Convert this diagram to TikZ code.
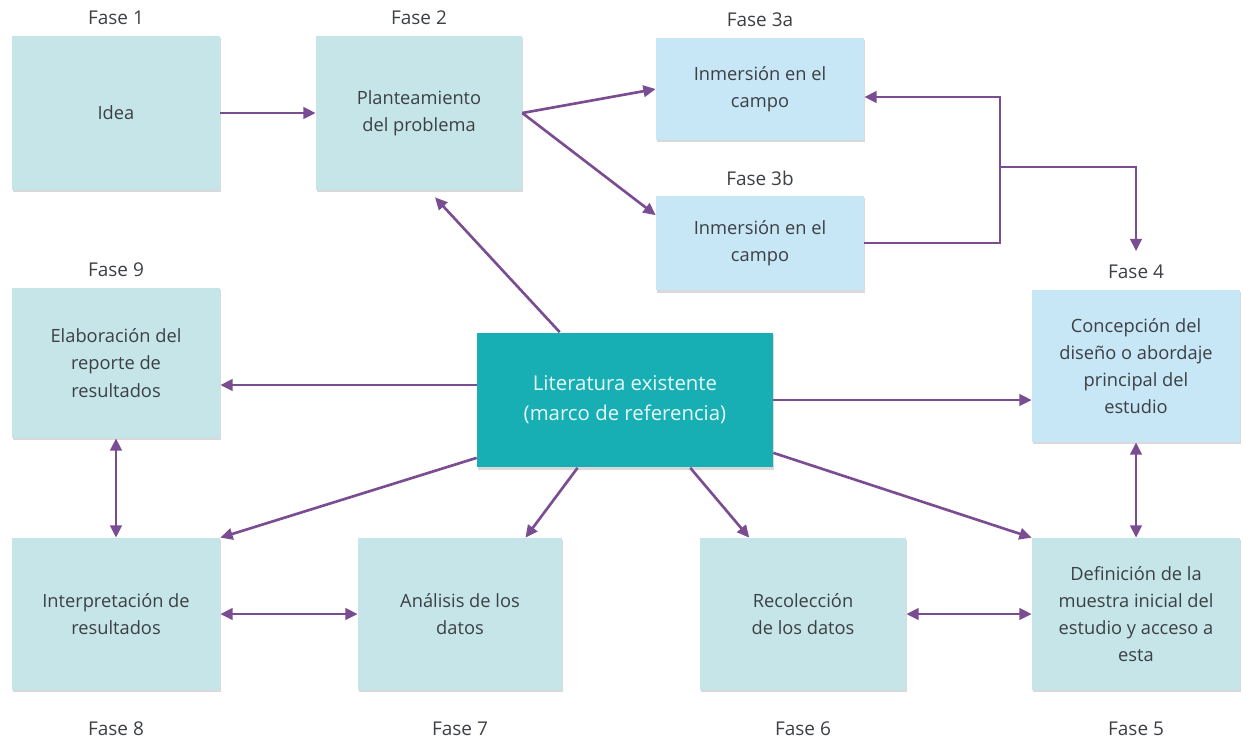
\documentclass[tikz,border=0pt]{standalone}
\usepackage{fontspec}
\setmainfont{Open Sans}
\usepackage{tikz}
\usetikzlibrary{arrows.meta,positioning,calc,shadows}
\usepackage{xcolor}
\definecolor{celeste}{HTML}{C5E5E8}
\definecolor{cielo}{HTML}{C7E6F6}
\definecolor{turquesa}{HTML}{17AEB4}
\definecolor{morado}{HTML}{7A4C92}
\definecolor{tinta}{HTML}{3C4044}
\definecolor{claro}{HTML}{E6FAFA}
\tikzset{
  fase/.style={fill=celeste,align=center,minimum width=4.16cm,minimum height=3.04cm,inner sep=0pt,text=tinta,font=\fontsize{10.4}{15.5}\selectfont,drop shadow={shadow xshift=0.7pt,shadow yshift=-1.2pt,opacity=0.3}},
  inmer/.style={fase,fill=cielo},
  etiq/.style={inner sep=0pt,text=tinta,font=\fontsize{10.8}{12}\selectfont},
  arr/.style={-{Triangle[length=7pt,width=6.5pt]},line width=1.5pt,draw=morado},
  darr/.style={arr,{Triangle[length=7pt,width=6.5pt]}-{Triangle[length=7pt,width=6.5pt]}}
}

\begin{document}
\begin{tikzpicture}[x=0.02cm,y=-0.02cm]
        \useasboundingbox (0,0) rectangle (1243,741);
        \node[fase,minimum height=3.08cm] (idea) at (116,113) {Idea};
        \node[fase,minimum height=3.08cm,minimum width=4.12cm] (plan) at (419,113) {Planteamiento\\del problema};
        \node[inmer,minimum height=2.04cm] (campoa) at (760,89) {Inmersión en el\\campo};
        \node[inmer,minimum height=1.9cm] (campob) at (760,243) {Inmersión en el\\campo};
        \node[fase,minimum height=3cm] (rep) at (116,363) {Elaboración del\\reporte de\\resultados};
        \node[fase,fill=turquesa,text=claro,minimum width=5.92cm,minimum height=2.7cm,font=\fontsize{11.6}{17}\selectfont] (lit) at (625,400) {Literatura existente\\(marco de referencia)};
        \node[inmer] (dis) at (1136,366) {Concepción del\\diseño o abordaje\\principal del\\estudio};
        \node[fase] (int) at (116,614) {Interpretación de\\resultados};
        \node[fase,minimum width=4.08cm] (ana) at (460,614) {Análisis de los\\datos};
        \node[fase,minimum width=4.12cm] (rec) at (803,614) {Recolección\\de los datos};
        \node[fase] (mue) at (1136,614) {Definición de la\\muestra inicial del\\estudio y acceso a\\esta};

        \node[etiq,above=2.2mm of idea] (f1) {Fase 1};
        \node[etiq,above=2.2mm of plan] (f2) {Fase 2};
        \node[etiq,above=2.2mm of campoa] (f3a) {Fase 3a};
        \node[etiq,above=1.8mm of campob] (f3b) {Fase 3b};
        \node[etiq,above=2.2mm of dis] (f4) {Fase 4};
        \node[etiq,above=2.2mm of rep] (f9) {Fase 9};
        \node[etiq,below=6.2mm of int] (f8) {Fase 8};
        \node[etiq,below=6.2mm of ana] (f7) {Fase 7};
        \node[etiq,below=6.2mm of rec] (f6) {Fase 6};
        \node[etiq,below=6.2mm of mue] (f5) {Fase 5};

        \coordinate (cruce) at (1000,167);
        \draw[arr] (idea) -- (plan);
        \draw[arr] (plan.east) -- (campoa.west);
        \draw[arr] (plan.east) -- ([yshift=-4mm]campob.north west);
        \draw[arr] (campob.east) -| (cruce) |- ([yshift=-1.6mm]campoa.east);
        \draw[arr] (cruce) -| ([yshift=2.6mm]f4.north);
        \draw[arr] ($(lit.north west)!0.28!(lit.north east)$) -- ([xshift=3.2mm,yshift=-1.4mm]plan.south);
        \draw[arr] ([yshift=3mm]lit.west) -- ([yshift=3mm]lit.west -| rep.east);
        \draw[arr] (lit.east) -- (lit.east -| dis.west);
        \draw[arr] ([yshift=2mm]lit.south west) -- (int.north east);
        \draw[arr] ($(lit.south west)!0.34!(lit.south east)$) -- ($(ana.north west)!0.82!(ana.north east)$);
        \draw[arr] ($(lit.south west)!0.72!(lit.south east)$) -- ($(rec.north west)!0.24!(rec.north east)$);
        \draw[arr] ([yshift=3mm]lit.south east) -- (mue.north west);
        \draw[darr] (rep) -- (int);
        \draw[darr] (int) -- (ana);
        \draw[darr] (rec) -- (mue);
        \draw[darr] (dis) -- (mue);
      \end{tikzpicture}
\end{document}
